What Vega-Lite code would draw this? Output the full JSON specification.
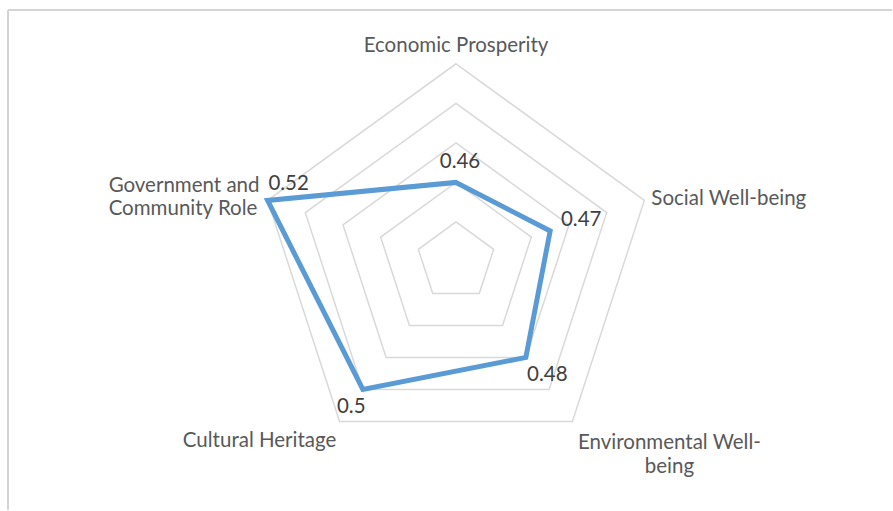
{
  "$schema": "https://vega.github.io/schema/vega-lite/v6.json",
  "width": 893,
  "height": 511,
  "autosize": {"type": "fit", "contains": "padding"},
  "padding": {"left": 7, "top": 9, "right": 0, "bottom": 0},
  "background": "white",
  "config": {"view": {"stroke": null}},
  "data": {
    "values": [
      {"axis": "Economic Prosperity", "value": 0.46},
      {"axis": "Social Well-being", "value": 0.47},
      {"axis": "Environmental Well-being", "value": 0.48},
      {"axis": "Cultural Heritage", "value": 0.5},
      {"axis": "Government and Community Role", "value": 0.52}
    ]
  },
  "transform": [
    {"window": [{"op": "row_number", "as": "k"}]},
    {"calculate": "(datum.k - 1) * 2 * PI / 5", "as": "ang"},
    {"calculate": "(datum.value - 0.42) / 0.1", "as": "r"},
    {"calculate": "datum.r * sin(datum.ang)", "as": "px"},
    {"calculate": "datum.r * cos(datum.ang)", "as": "py"},
    {"calculate": "sin(datum.ang)", "as": "ox"},
    {"calculate": "cos(datum.ang)", "as": "oy"}
  ],
  "layer": [
    {
      "mark": {"type": "rule", "stroke": "#d4d4d4", "strokeWidth": 2},
      "encoding": {
        "x": {"datum": -2.262, "type": "quantitative", "scale": {"domain": [-2.262, 2.2015], "nice": false, "zero": false}, "axis": null}
      }
    },
    {
      "mark": {"type": "rule", "stroke": "#d4d4d4", "strokeWidth": 2},
      "encoding": {
        "y": {"datum": 1.272, "type": "quantitative", "scale": {"domain": [-1.2569, 1.272], "nice": false, "zero": false}, "axis": null}
      }
    },
    {
      "transform": [
        {"calculate": "[0.44, 0.46, 0.48, 0.5, 0.52]", "as": "levels"},
        {"flatten": ["levels"], "as": ["level"]},
        {"calculate": "(datum.level - 0.42) / 0.1", "as": "gr"},
        {"calculate": "datum.gr * sin(datum.ang)", "as": "gx"},
        {"calculate": "datum.gr * cos(datum.ang)", "as": "gy"}
      ],
      "mark": {"type": "line", "interpolate": "linear-closed", "stroke": "#d9d9d9", "strokeWidth": 1.5},
      "encoding": {
        "x": {"field": "gx", "type": "quantitative", "scale": {"domain": [-2.262, 2.2015], "nice": false, "zero": false}, "axis": null},
        "y": {"field": "gy", "type": "quantitative", "scale": {"domain": [-1.2569, 1.272], "nice": false, "zero": false}, "axis": null},
        "detail": {"field": "level", "type": "nominal"},
        "order": {"field": "k", "type": "quantitative"}
      }
    },
    {
      "mark": {"type": "line", "interpolate": "linear-closed", "stroke": "#5b9bd5", "strokeWidth": 5, "strokeJoin": "miter"},
      "encoding": {
        "x": {"field": "px", "type": "quantitative", "axis": null},
        "y": {"field": "py", "type": "quantitative", "axis": null},
        "order": {"field": "k", "type": "quantitative"}
      }
    },
    {
      "transform": [{"filter": "datum.k == 1"}],
      "mark": {"type": "text", "font": "Lato", "fontSize": 20.5, "fill": "#404040", "align": "center", "baseline": "middle", "dx": 4, "dy": -20},
      "encoding": {
        "x": {"field": "px", "type": "quantitative", "axis": null},
        "y": {"field": "py", "type": "quantitative", "axis": null},
        "text": {"field": "value", "type": "nominal"}
      }
    },
    {
      "transform": [{"filter": "datum.k == 2"}],
      "mark": {"type": "text", "font": "Lato", "fontSize": 20.5, "fill": "#404040", "align": "center", "baseline": "middle", "dx": 31, "dy": -11},
      "encoding": {
        "x": {"field": "px", "type": "quantitative", "axis": null},
        "y": {"field": "py", "type": "quantitative", "axis": null},
        "text": {"field": "value", "type": "nominal"}
      }
    },
    {
      "transform": [{"filter": "datum.k == 3"}],
      "mark": {"type": "text", "font": "Lato", "fontSize": 20.5, "fill": "#404040", "align": "center", "baseline": "middle", "dx": 21.5, "dy": 17.6},
      "encoding": {
        "x": {"field": "px", "type": "quantitative", "axis": null},
        "y": {"field": "py", "type": "quantitative", "axis": null},
        "text": {"field": "value", "type": "nominal"}
      }
    },
    {
      "transform": [{"filter": "datum.k == 4"}],
      "mark": {"type": "text", "font": "Lato", "fontSize": 20.5, "fill": "#404040", "align": "center", "baseline": "middle", "dx": -11.6, "dy": 18},
      "encoding": {
        "x": {"field": "px", "type": "quantitative", "axis": null},
        "y": {"field": "py", "type": "quantitative", "axis": null},
        "text": {"field": "value", "type": "nominal"}
      }
    },
    {
      "transform": [{"filter": "datum.k == 5"}],
      "mark": {"type": "text", "font": "Lato", "fontSize": 20.5, "fill": "#404040", "align": "center", "baseline": "middle", "dx": 21, "dy": -16},
      "encoding": {
        "x": {"field": "px", "type": "quantitative", "axis": null},
        "y": {"field": "py", "type": "quantitative", "axis": null},
        "text": {"field": "value", "type": "nominal"}
      }
    },
    {
      "transform": [{"filter": "datum.k == 1"}],
      "mark": {"type": "text", "font": "Lato", "fontSize": 20.5, "fill": "#595959", "align": "center", "baseline": "alphabetic", "dx": 0, "dy": -11.5},
      "encoding": {
        "x": {"field": "ox", "type": "quantitative", "axis": null},
        "y": {"field": "oy", "type": "quantitative", "axis": null},
        "text": {"field": "axis", "type": "nominal"}
      }
    },
    {
      "transform": [{"filter": "datum.k == 2"}],
      "mark": {"type": "text", "font": "Lato", "fontSize": 20.5, "fill": "#595959", "align": "left", "baseline": "alphabetic", "dx": 7, "dy": 5},
      "encoding": {
        "x": {"field": "ox", "type": "quantitative", "axis": null},
        "y": {"field": "oy", "type": "quantitative", "axis": null},
        "text": {"field": "axis", "type": "nominal"}
      }
    },
    {
      "transform": [
        {"filter": "datum.k == 3"},
        {"calculate": "replace(datum.axis, 'Well-', 'Well-\\n')", "as": "lbl"}
      ],
      "mark": {"type": "text", "font": "Lato", "fontSize": 20.5, "fill": "#595959", "align": "center", "baseline": "alphabetic", "dx": 97, "dy": 28, "lineBreak": "\n", "lineHeight": 23.3},
      "encoding": {
        "x": {"field": "ox", "type": "quantitative", "axis": null},
        "y": {"field": "oy", "type": "quantitative", "axis": null},
        "text": {"field": "lbl", "type": "nominal"}
      }
    },
    {
      "transform": [{"filter": "datum.k == 4"}],
      "mark": {"type": "text", "font": "Lato", "fontSize": 20.5, "fill": "#595959", "align": "center", "baseline": "alphabetic", "dx": -80, "dy": 26},
      "encoding": {
        "x": {"field": "ox", "type": "quantitative", "axis": null},
        "y": {"field": "oy", "type": "quantitative", "axis": null},
        "text": {"field": "axis", "type": "nominal"}
      }
    },
    {
      "transform": [
        {"filter": "datum.k == 5"},
        {"calculate": "replace(datum.axis, 'and ', 'and\\n')", "as": "lbl"}
      ],
      "mark": {"type": "text", "font": "Lato", "fontSize": 20.5, "fill": "#595959", "align": "left", "baseline": "alphabetic", "dx": -159, "dy": -8.3, "lineBreak": "\n", "lineHeight": 23.3},
      "encoding": {
        "x": {"field": "ox", "type": "quantitative", "axis": null},
        "y": {"field": "oy", "type": "quantitative", "axis": null},
        "text": {"field": "lbl", "type": "nominal"}
      }
    }
  ]
}
